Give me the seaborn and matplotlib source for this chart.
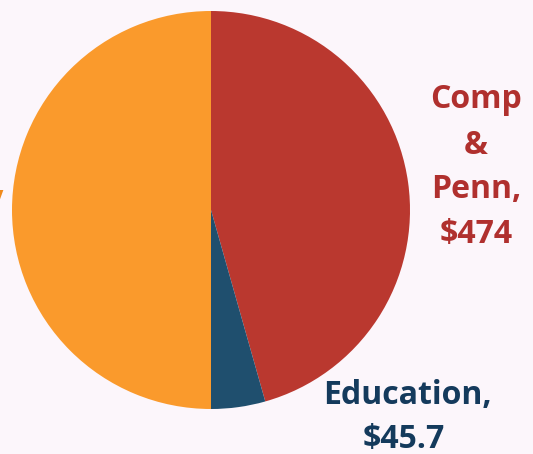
import matplotlib
matplotlib.use("Agg")
import matplotlib.pyplot as plt
import seaborn as sns

sns.set_theme(style="white")
plt.rcParams['font.family'] = ['Open Sans', 'DejaVu Sans']

categories = ["Comp & Penn", "Education", "Other"]
values = [474, 45.7, 519.7]
labels = ["Comp\n&\nPenn,\n$474", "Education,\n$45.7", "Safety"]
colors = ["#BA382F", "#1F4F6E", "#FA9A2C"]
label_colors = ["#B0302E", "#143A5C", "#F08A1C"]

W, H = 533, 454
fig = plt.figure(figsize=(W / 100, H / 100), dpi=100)
bg = "#FCF6FB"
fig.patch.set_facecolor(bg)

cx, cy, r = 211, 210, 199
ax = fig.add_axes([(cx - r) / W, (H - cy - r) / H, 2 * r / W, 2 * r / H])
ax.set_facecolor(bg)
ax.pie(values, colors=colors, startangle=90, counterclock=False, radius=1,
       wedgeprops=dict(linewidth=0))
ax.set_xlim(-1, 1)
ax.set_ylim(-1, 1)
ax.set_aspect("equal")
ax.axis("off")

def px(x, y):
    return (x - cx) / r, (cy - y) / r

fs = 23
# Comp & Penn label
for line, y in zip(["Comp", "&", "Penn,", "$474"], [100, 145, 190, 235]):
    ax.text(*px(476, y), line, ha="center", va="center", fontsize=fs,
            fontweight="bold", color=label_colors[0], clip_on=False)

# Education label
ax.text(*px(407, 395), "Education,", ha="center", va="center", fontsize=fs,
        fontweight="bold", color=label_colors[1], clip_on=False)
ax.text(*px(404, 440), "$45.7", ha="center", va="center", fontsize=fs,
        fontweight="bold", color=label_colors[1], clip_on=False)

# Cut-off label on the left
ax.text(*px(4, 200), labels[2], ha="right", va="center", fontsize=fs,
        fontweight="bold", color=label_colors[2], clip_on=False)

fig.savefig("out.png", dpi=100, facecolor=bg)
